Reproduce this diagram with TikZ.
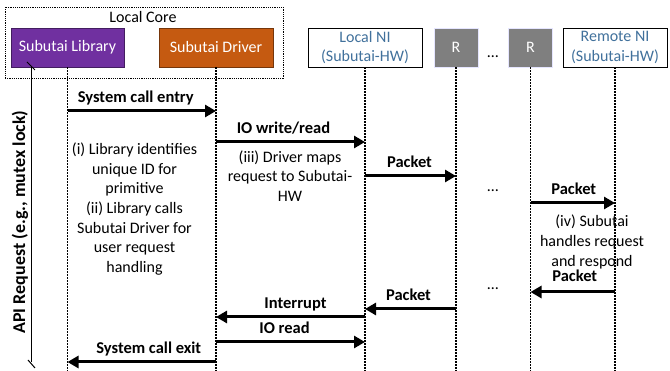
\documentclass[tikz,border=0pt]{standalone}
\usepackage{fontspec}
\setmainfont{Carlito}
\usetikzlibrary{arrows.meta}
\definecolor{libpurple}{HTML}{7030A0}
\definecolor{drvorange}{HTML}{C55A11}
\definecolor{niblue}{HTML}{41719C}
\definecolor{rgray}{HTML}{7F7F7F}
\tikzset{
  box/.style={draw, minimum height=39pt, inner sep=0pt, align=center, font=\fontsize{16}{19.6}\selectfont},
  life/.style={line width=1.2pt, dash pattern=on 1.6pt off 1.4pt},
  msg/.style={line width=3pt, -{Triangle[length=11pt,width=12pt]}},
  lbl/.style={font=\fontsize{16.5}{19.6}\selectfont\bfseries, inner sep=0pt, text height=11pt, text depth=3pt, above=3.5pt},
  note/.style={font=\fontsize{16}{19.6}\selectfont, align=center, inner sep=0pt}
}
\begin{document}
\begin{tikzpicture}[x=1pt,y=-1pt]
  \useasboundingbox (0,0) rectangle (670,371);
  % local core frame
  \node[draw, line width=.8pt, dash pattern=on 1.2pt off 1pt, minimum width=278pt, minimum height=71pt] (core) at (144,42.5) {};
  \node[font=\fontsize{16}{19.6}\selectfont] (corelbl) at (143,17) {Local Core};
  % participants
  \node[box, fill=libpurple, draw=libpurple!60!black, text=white, minimum width=113pt] (lib) at (67.5,47.5) {Subutai Library};
  \node[box, fill=drvorange, draw=drvorange!60!black, text=white, minimum width=114pt] (drv) at (216,47.5) {Subutai Driver};
  \node[box, fill=white, text=niblue, minimum width=114pt] (lni) at (365,47.5) {Local NI\\(Subutai-HW)};
  \node[box, fill=rgray, draw=blue!10, text=white, minimum width=44pt] (r1) at (456,47.5) {R};
  \node[box, fill=rgray, draw=blue!10, text=white, minimum width=44pt] (r2) at (530.5,47.5) {R};
  \node[box, fill=white, text=niblue, minimum width=104pt] (rni) at (615,47.5) {Remote NI\\(Subutai-HW)};
  \node[font=\fontsize{16}{19.6}\selectfont] (dots1) at (493,57) {\ldots};
  \node[font=\fontsize{16}{19.6}\selectfont] (dots2) at (493,191) {\ldots};
  \node[font=\fontsize{16}{19.6}\selectfont] (dots3) at (493,289) {\ldots};
  % lifelines
  \foreach \n in {lib,drv,lni,r1,r2,rni}
    \draw[life] (\n.south) -- (\n.south |- 0,371);
  % messages
  \draw[msg] (lib |- 0,111) -- node[lbl, xshift=-6pt] {System call entry} (drv |- 0,111);
  \draw[msg] (drv |- 0,142) -- node[lbl, xshift=-7pt] {IO write/read} (lni |- 0,142);
  \draw[msg] (lni |- 0,176) -- node[lbl, xshift=-1pt] {Packet} (r1 |- 0,176);
  \draw[msg] (r2 |- 0,203) -- node[lbl, xshift=1pt] {Packet} (rni |- 0,203);
  \draw[msg] (rni |- 0,292) -- node[lbl, xshift=2pt, above=2pt] {Packet} (r2 |- 0,292);
  \draw[msg] (r1 |- 0,309) -- node[lbl, xshift=-2pt] {Packet} (lni |- 0,309);
  \draw[msg] (lni |- 0,317) -- node[lbl, xshift=5pt] {Interrupt} (drv |- 0,317);
  \draw[msg] (drv |- 0,342) -- node[lbl, xshift=-6pt] {IO read} (lni |- 0,342);
  \draw[msg] (drv |- 0,362) -- node[lbl, xshift=7pt] {System call exit} (lib |- 0,362);
  % notes
  \node[note] (libnote) at (134.5,209) {(i) Library identifies\\unique ID for\\primitive\\(ii) Library calls\\Subutai Driver for\\user request\\handling};
  \node[note] (drvnote) at (290,176) {(iii) Driver maps\\request to Subutai-\\HW};
  \node[note] (rninote) at (592,242) {(iv) Subutai\\handles request\\and respond};
  % api request span
  \node[font=\fontsize{18}{20}\selectfont\bfseries, rotate=90] (api) at (20,222) {API Request (e.g., mutex lock)};
  \coordinate (apitop) at (31,66);
  \coordinate (apibot) at (31,362);
  \draw[line width=1pt] (apitop) -- (apibot);
  \draw[line width=1pt] ([shift={(-4,-4)}]apitop) -- ([shift={(4,4)}]apitop);
  \draw[line width=1pt] ([shift={(-3,-2)}]apibot) -- ([shift={(4,6)}]apibot);
\end{tikzpicture}
\end{document}
